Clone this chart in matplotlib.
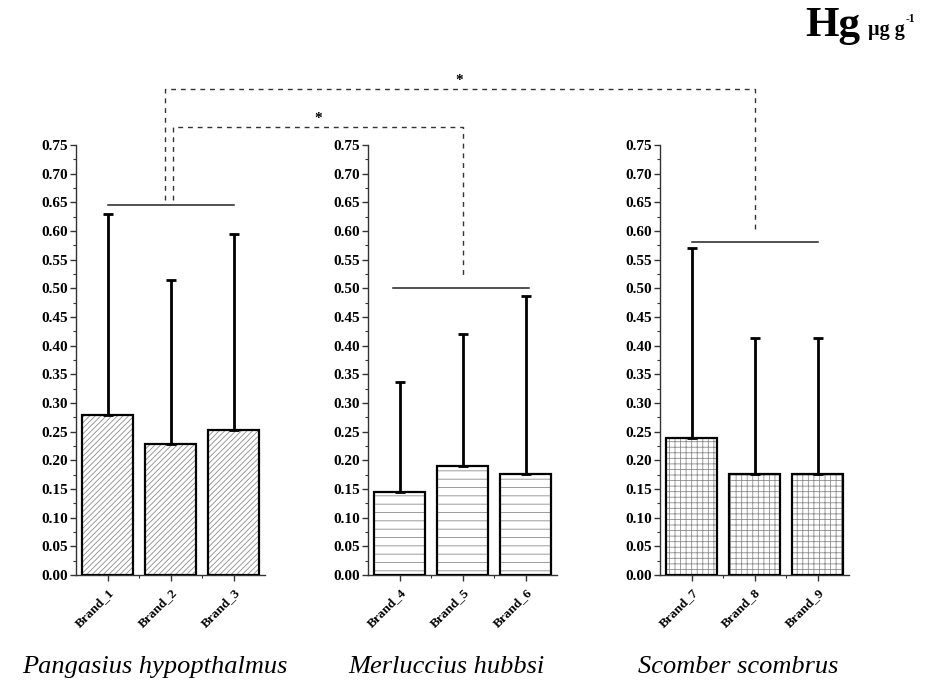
import matplotlib
matplotlib.use("Agg")
import matplotlib.pyplot as plt
from matplotlib.lines import Line2D
from matplotlib.ticker import MultipleLocator, FormatStrFormatter
import numpy as np

plt.rcParams["font.family"] = ["Liberation Serif", "DejaVu Serif"]
plt.rcParams["hatch.linewidth"] = 0.6

# data (Hg, ug g-1)
brands = [["Brand_1", "Brand_2", "Brand_3"],
          ["Brand_4", "Brand_5", "Brand_6"],
          ["Brand_7", "Brand_8", "Brand_9"]]
species = ["Pangasius hypopthalmus", "Merluccius hubbsi", "Scomber scombrus"]
means = [[0.279, 0.228, 0.253],
         [0.144, 0.190, 0.177],
         [0.239, 0.176, 0.177]]
upper = [[0.630, 0.515, 0.594],
         [0.337, 0.421, 0.487],
         [0.570, 0.413, 0.413]]
group_line = [0.646, 0.501, 0.581]
group_span = [(0, 2), (-0.1, 2.05), (0, 2)]
# brackets: (from group, x in from-group, to group, x in to-group, top, gap at ends)
brackets = [(0, 1.04, 1, 1.0, 0.782, (0.008, 0.017)),
            (0, 0.91, 2, 1.0, 0.848, (0.008, 0.016))]
hatches = ["//////", "--", "+++"]

W, H = 938, 690
fig = plt.figure(figsize=(W / 100, H / 100), dpi=100)

lefts = [76, 368, 660]
axw, top, bottom = 189, 145, 575
axes = []
for g, lx in enumerate(lefts):
    ax = fig.add_axes([lx / W, (H - bottom) / H, axw / W, (bottom - top) / H])
    axes.append(ax)
    x = np.arange(len(brands[g]))
    m = np.array(means[g])
    up = np.array(upper[g]) - m
    ax.bar(x, m, width=0.82, color="white", edgecolor="#8c8c8c",
           hatch=hatches[g], linewidth=0, zorder=2)
    ax.bar(x, m, width=0.82, fill=False, edgecolor="black", linewidth=1.6, zorder=3)
    ax.errorbar(x, m, yerr=[np.zeros_like(up), up], fmt="none", ecolor="black",
                elinewidth=2, capsize=3.5, capthick=2, zorder=4)
    ax.plot(group_span[g], [group_line[g]] * 2, color="#222222", lw=1.1,
            clip_on=False, zorder=5)

    ax.set_xlim(-0.5, 2.5)
    ax.set_ylim(0, 0.75)
    for s in ("top", "right"):
        ax.spines[s].set_visible(False)
    for s in ("left", "bottom"):
        ax.spines[s].set_linewidth(1.0)
        ax.spines[s].set_color("#333333")
    ax.yaxis.set_major_locator(MultipleLocator(0.05))
    ax.yaxis.set_minor_locator(MultipleLocator(0.025))
    ax.yaxis.set_major_formatter(FormatStrFormatter("%.2f"))
    ax.set_xticks(x)
    ax.set_xticks([0.5, 1.5], minor=True)
    ax.set_xticklabels(brands[g], rotation=45, ha="right", rotation_mode="anchor",
                       fontsize=9.5, fontweight="bold")
    ax.tick_params(axis="y", which="major", length=4, width=1, labelsize=11,
                   pad=1.5, color="#333333")
    ax.tick_params(axis="y", which="minor", length=2, width=0.8, color="#333333")
    ax.tick_params(axis="x", which="major", length=4, width=1, pad=4, color="#333333")
    ax.tick_params(axis="x", which="minor", length=2, width=0.8, color="#333333")
    for lab in ax.get_yticklabels():
        lab.set_fontweight("bold")
    ax.patch.set_alpha(0)

    # species name under each panel
    cx = fig.transFigure.inverted().transform(ax.transData.transform((1, 0)))[0]
    fig.text(cx - 0.017, 0.033, species[g], ha="center", va="center",
             fontsize=19, style="italic")


def to_fig(ax, x, y):
    return fig.transFigure.inverted().transform(ax.transData.transform((x, y)))


for g0, x0, g1, x1, ytop, (gap0, gap1) in brackets:
    p0 = to_fig(axes[g0], x0, group_line[g0] + gap0)
    p1 = to_fig(axes[g0], x0, ytop)
    p2 = to_fig(axes[g1], x1, ytop)
    p3 = to_fig(axes[g1], x1, group_line[g1] + gap1)
    xs = [p0[0], p1[0], p2[0], p3[0]]
    ys = [p0[1], p1[1], p2[1], p3[1]]
    fig.add_artist(Line2D(xs, ys, color="#333333", lw=1.0,
                          linestyle=(0, (3.5, 3.5)), transform=fig.transFigure))
    fig.text((p1[0] + p2[0]) / 2, p1[1] + 0.002, "*", ha="center", va="bottom",
             fontsize=11, fontweight="bold")

# element / unit heading
fig.text(0.859, 0.948, "Hg", ha="left", va="baseline", fontsize=31, fontweight="bold")
unit = fig.text(0.925, 0.950, "µg g", ha="left", va="baseline", fontsize=14.5,
                fontweight="bold")
bb = unit.get_window_extent(renderer=fig.canvas.get_renderer())
fig.text(bb.x1 / W + 0.001, 0.968, "-1", ha="left", va="baseline", fontsize=8.5,
         fontweight="bold")

fig.savefig("out.png", dpi=100)
